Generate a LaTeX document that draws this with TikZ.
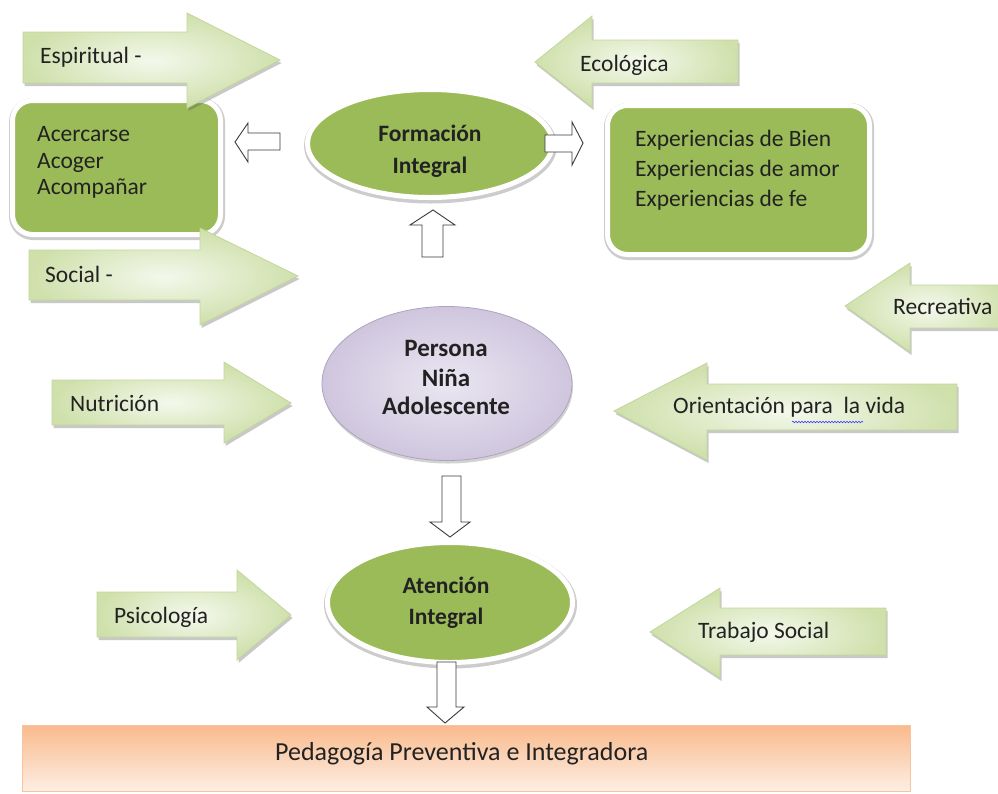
\documentclass[tikz,border=0pt]{standalone}
\usepackage{fontspec}
\setmainfont{Carlito}
\usetikzlibrary{shapes.geometric,shadows,decorations.pathmorphing}
\definecolor{gfill}{HTML}{9BBB59}
\definecolor{ain}{HTML}{F4F8EC}
\definecolor{aout}{HTML}{CFE0AB}
\definecolor{aedge}{HTML}{C3D69B}
\definecolor{lav1}{HTML}{EAE6F1}
\definecolor{lav2}{HTML}{CFC6DE}
\definecolor{lavedge}{HTML}{ADA4BF}
\definecolor{or1}{HTML}{F9BA8C}
\definecolor{or2}{HTML}{FDE6D6}
\definecolor{or3}{HTML}{FDEEE4}
\definecolor{oredge}{HTML}{F8C4A0}
\definecolor{hedge}{HTML}{3A3A3A}
\definecolor{wavy}{HTML}{3B3BFF}
\definecolor{txt}{HTML}{222222}
\tikzset{
  greenarrow/.style={draw=aedge, line width=0.8pt, inner color=ain, outer color=aout,
    drop shadow={shadow xshift=1.5pt, shadow yshift=-3pt, opacity=0.3, fill=black!70}},
  hollow/.style={draw=hedge, fill=white, line width=0.9pt, line join=miter},
  lbl/.style={font=\fontsize{23.5}{28}\selectfont, text=txt, inner sep=0pt, anchor=mid west},
  blbl/.style={font=\fontsize{23.5}{28}\selectfont\bfseries, text=txt, inner sep=0pt, anchor=mid},
  plbl/.style={font=\fontsize{25}{30}\selectfont\bfseries, text=txt, inner sep=0pt, anchor=mid},
  gbox/.style={rectangle, fill=gfill, draw=white, line width=5pt, rounded corners=20pt,
    preaction={draw=black!20, line width=8pt, transform canvas={xshift=0.5pt,yshift=-1.5pt}}},
  gell/.style={ellipse, fill=gfill, draw=white, line width=5pt, inner sep=0pt,
    preaction={draw=black!20, line width=8pt, transform canvas={xshift=0.5pt,yshift=-2pt}}},
  lavell/.style={ellipse, inner color=lav1, outer color=lav2, draw=lavedge, line width=0.8pt, inner sep=0pt,
    drop shadow={shadow xshift=1pt, shadow yshift=-3pt, opacity=0.25, fill=black!70}},
  pedbox/.style={rectangle, draw=oredge, line width=0.8pt, top color=or1, middle color=or2, bottom color=or3, inner sep=0pt},
}
\begin{document}
\begin{tikzpicture}[x=1pt,y=-1pt]
\useasboundingbox[fill=white] (0,0) rectangle (998,793);

% base box
\node[pedbox, minimum width=888pt, minimum height=66pt] (ped) at (466,758) {};

% rounded green boxes
\node[gbox, minimum width=208pt, minimum height=134pt] (acbox) at (116.5,167.5) {};
\node[gbox, minimum width=262pt, minimum height=149pt] (exbox) at (738.5,180) {};

% ellipses
\node[gell, minimum width=245pt, minimum height=108pt] (fi) at (430,143.5) {};
\node[lavell, minimum width=250pt, minimum height=154pt] (pe) at (447,383.5) {};
\node[gell, minimum width=245pt, minimum height=120pt] (ai) at (450,602.5) {};

% green block arrows
\draw[greenarrow] (23,32) -- (187,32) -- (187,13) -- (280,60) -- (187,108) -- (187,83) -- (23,83) -- cycle;
\draw[greenarrow] (29,250) -- (200,250) -- (200,228) -- (298,276) -- (200,325) -- (200,300) -- (29,300) -- cycle;
\draw[greenarrow] (52,380) -- (224,380) -- (224,362) -- (291,403) -- (224,443) -- (224,425) -- (52,425) -- cycle;
\draw[greenarrow] (97,592) -- (237,592) -- (237,570) -- (291,615) -- (237,660) -- (237,637) -- (97,637) -- cycle;
\draw[greenarrow] (738,40) -- (592,40) -- (592,16) -- (535,62) -- (592,107) -- (592,83) -- (738,83) -- cycle;
\draw[greenarrow] (1010,285) -- (910,285) -- (910,263) -- (845,306) -- (910,352) -- (910,328) -- (1010,328) -- cycle;
\draw[greenarrow] (957,384) -- (707,384) -- (707,363) -- (614,411) -- (707,460) -- (707,430) -- (957,430) -- cycle;
\draw[greenarrow] (886,608) -- (720,608) -- (720,588) -- (650,632) -- (720,678) -- (720,655) -- (886,655) -- cycle;

% hollow connector arrows
\draw[hollow] (280,133) -- (248,133) -- (248,123) -- (235,142) -- (248,162) -- (248,150) -- (280,150) -- cycle;
\draw[hollow] (545,135) -- (572,135) -- (572,122) -- (583,143) -- (572,165) -- (572,152) -- (545,152) -- cycle;
\draw[hollow] (422,257) -- (422,225) -- (410,225) -- (433,210) -- (455,225) -- (443,225) -- (443,257) -- cycle;
\draw[hollow] (442,476) -- (442,522) -- (430,522) -- (450,537) -- (470,522) -- (461,522) -- (461,476) -- cycle;
\draw[hollow] (437,662) -- (437,707) -- (427,707) -- (445,723) -- (464,707) -- (456,707) -- (456,662) -- cycle;

% texts
\node[lbl] (esp) at (40,61.5) {Espiritual -};
\node[lbl] (soc) at (45,280.5) {Social -};
\node[lbl] (ac1) at (37,139) {Acercarse};
\node[lbl] (ac2) at (37,166) {Acoger};
\node[lbl] (ac3) at (37,192.5) {Acompañar};
\node[lbl] (eco) at (580,69) {Ecológica};
\node[lbl] (ex1) at (635,144) {Experiencias de Bien};
\node[lbl] (ex2) at (635,174) {Experiencias de amor};
\node[lbl] (ex3) at (635,204) {Experiencias de fe};
\node[lbl] (rec) at (893,312) {Recreativa};
\node[lbl] (nut) at (70,409) {Nutrición};
\node[lbl] (ori) at (673,411) {Orientación para\ \ la vida};
\node[lbl] (psi) at (114,621) {Psicología};
\node[lbl] (tra) at (698,636.5) {Trabajo Social};
\node[lbl, font=\fontsize{26}{30}\selectfont] (pedt) at (275,758) {Pedagogía Preventiva e Integradora};

\node[blbl] (fi1) at (430,139) {Formación};
\node[blbl] (fi2) at (430,171) {Integral};
\node[plbl] (pe1) at (446,354) {Persona};
\node[plbl] (pe2) at (446,384) {Niña};
\node[plbl] (pe3) at (446,412.5) {Adolescente};
\node[blbl] (ai1) at (446,591) {Atención};
\node[blbl] (ai2) at (446,622) {Integral};

% spell-check underline
\draw[wavy, line width=0.6pt, decorate, decoration={snake, amplitude=0.8pt, segment length=3pt}] (792,422) -- (863,422);
\end{tikzpicture}
\end{document}
